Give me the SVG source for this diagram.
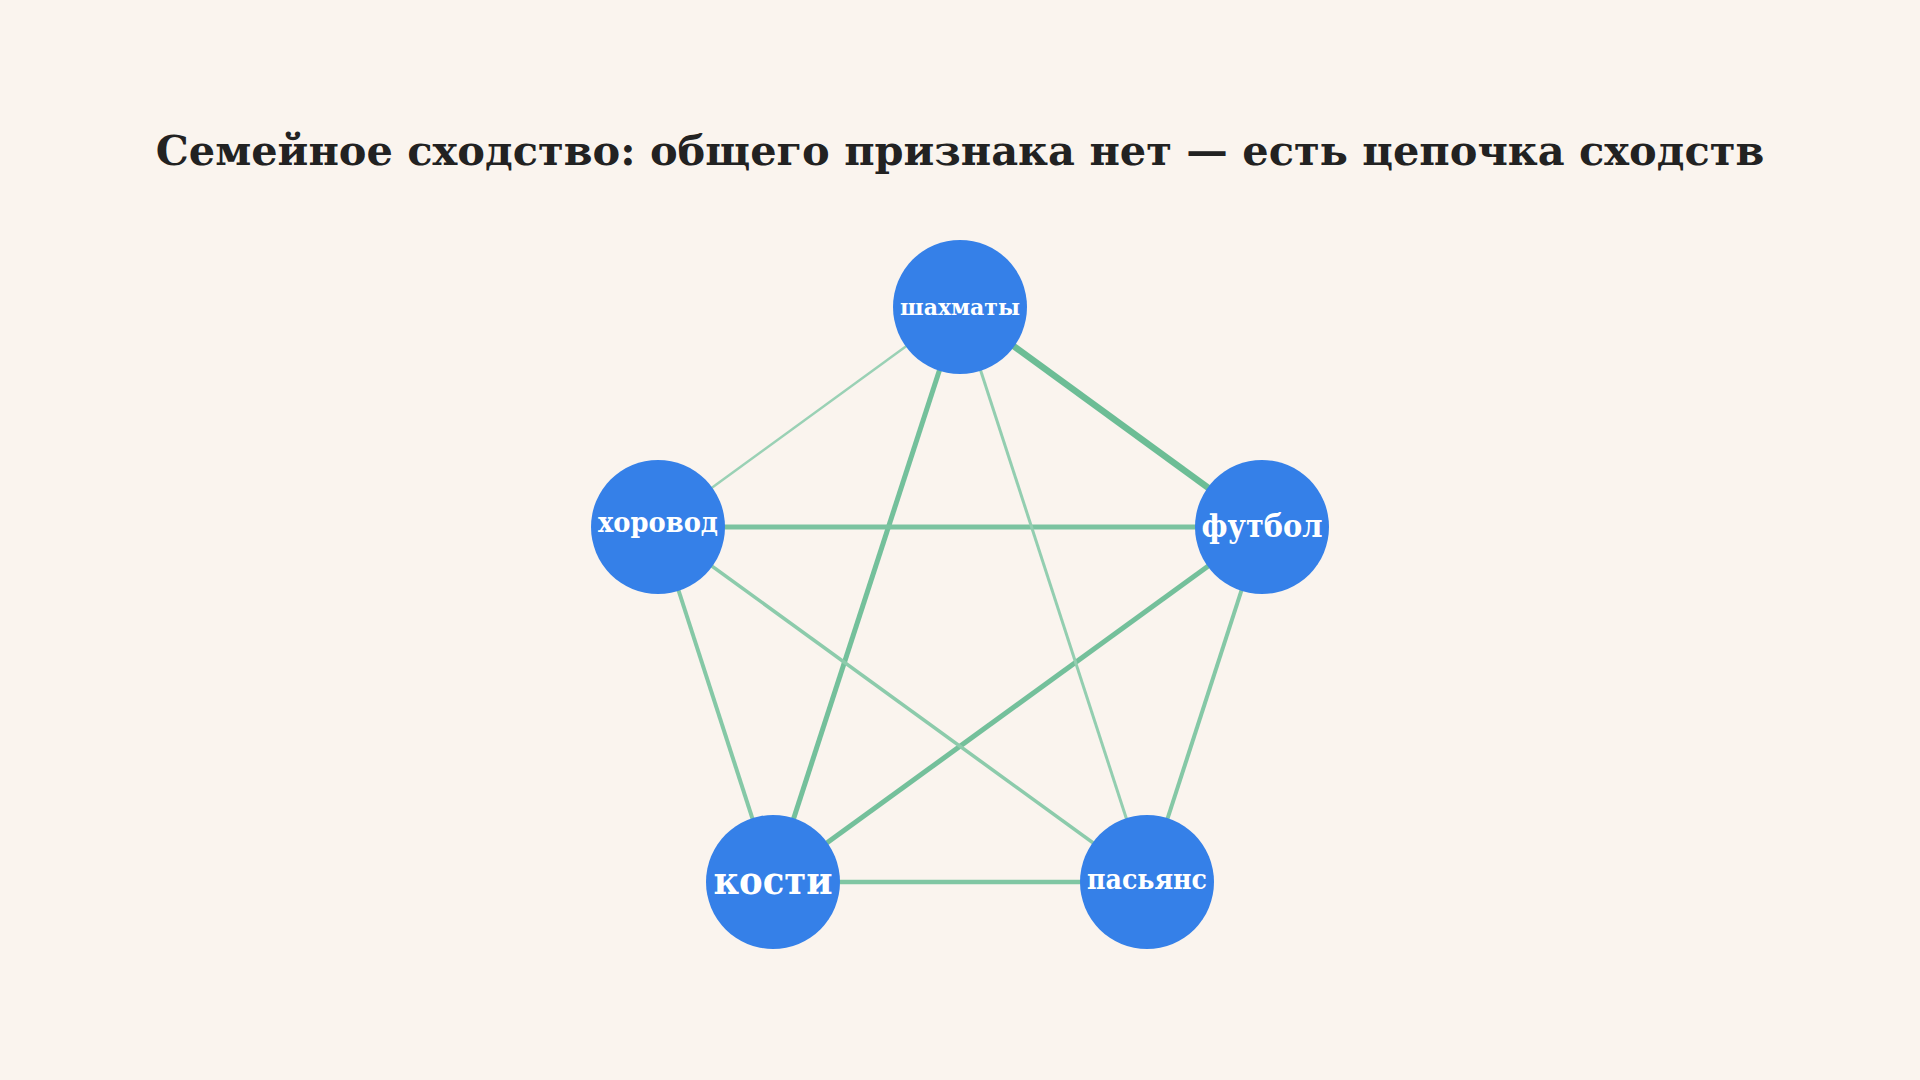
<svg xmlns="http://www.w3.org/2000/svg" width="1920" height="1080" viewBox="0 0 1920 1080">
<style>
.title{font-family:"DejaVu Serif","Liberation Serif",serif;font-weight:bold;fill:#222222;}
.node circle{fill:#3580e8;}
.node text{font-family:"DejaVu Serif","Liberation Serif",serif;font-weight:bold;fill:#ffffff;text-anchor:middle;}
.edges line{stroke-linecap:butt;}
</style>
<rect x="0" y="0" width="1920" height="1080" fill="#faf4ee"/>
<text class="title" x="960" y="165" font-size="41.5" text-anchor="middle">Семейное сходство: общего признака нет — есть цепочка сходств</text>
<g id="connectors" class="edges">
<line x1="960" y1="307" x2="1262" y2="527" stroke="#6cbd95" stroke-width="6.5"/>
<line x1="960" y1="307" x2="773" y2="882" stroke="#74c09b" stroke-width="5"/>
<line x1="1262" y1="527" x2="773" y2="882" stroke="#74c09b" stroke-width="5"/>
<line x1="658" y1="527" x2="1262" y2="527" stroke="#7bc3a0" stroke-width="5"/>
<line x1="773" y1="882" x2="1147" y2="882" stroke="#80c6a3" stroke-width="4.5"/>
<line x1="658" y1="527" x2="773" y2="882" stroke="#85c8a6" stroke-width="4"/>
<line x1="1262" y1="527" x2="1147" y2="882" stroke="#85c8a6" stroke-width="4"/>
<line x1="658" y1="527" x2="1147" y2="882" stroke="#8ccbab" stroke-width="3.5"/>
<line x1="960" y1="307" x2="1147" y2="882" stroke="#93ceb0" stroke-width="3"/>
<line x1="960" y1="307" x2="658" y2="527" stroke="#9ad1b5" stroke-width="2.5"/>
</g>
<g id="node-shakhmaty" class="node">
<circle cx="960" cy="307" r="67"/>
<text x="960" y="315" font-size="23" textLength="120" lengthAdjust="spacingAndGlyphs">шахматы</text>
</g>
<g id="node-khorovod" class="node">
<circle cx="658" cy="527" r="67"/>
<text x="658" y="532" font-size="27" textLength="120" lengthAdjust="spacingAndGlyphs">хоровод</text>
</g>
<g id="node-futbol" class="node">
<circle cx="1262" cy="527" r="67"/>
<text x="1262" y="537" font-size="31" textLength="121" lengthAdjust="spacingAndGlyphs">футбол</text>
</g>
<g id="node-kosti" class="node">
<circle cx="773" cy="882" r="67"/>
<text x="773" y="894" font-size="40" textLength="119" lengthAdjust="spacingAndGlyphs">кости</text>
</g>
<g id="node-pasyans" class="node">
<circle cx="1147" cy="882" r="67"/>
<text x="1147" y="889" font-size="27" textLength="120" lengthAdjust="spacingAndGlyphs">пасьянс</text>
</g>
</svg>
